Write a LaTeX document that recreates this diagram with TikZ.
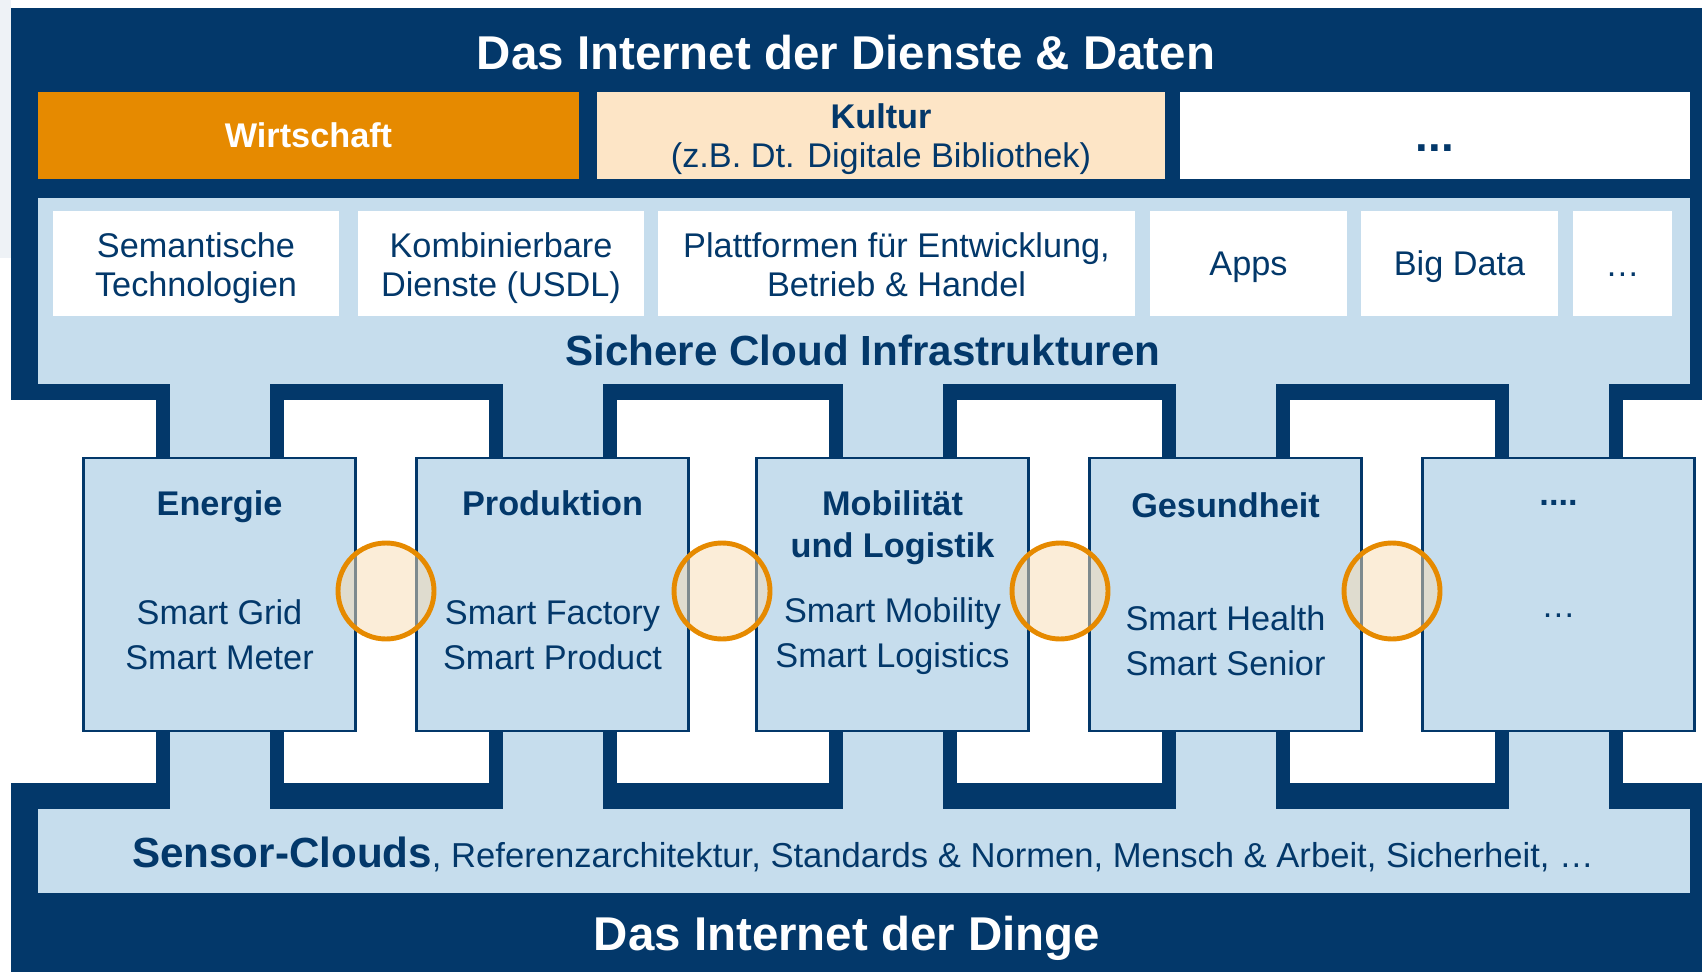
\documentclass[tikz,border=0pt]{standalone}
\usepackage{fontspec}
\setmainfont{Liberation Sans}
\usepackage{xcolor}
\usetikzlibrary{calc}
\definecolor{navy}{HTML}{03386A}
\definecolor{paleblue}{HTML}{C6DDED}
\definecolor{signal}{HTML}{E68A00}
\definecolor{peach}{HTML}{FDE5C6}
\definecolor{haze}{HTML}{EEF2F6}
\newcommand{\domainleg}[5]{%
  \fill[navy] ($(#1,#2)+(-64,0)$) rectangle ($(#1,#3)+(64,0)$);
  \fill[paleblue] ($(#1,#4)+(-50,0)$) rectangle ($(#1,#5)+(50,0)$);}

\begin{document}
\begin{tikzpicture}[x=0.02cm, y=-0.02cm, text=navy, inner sep=0pt,
  layertitle/.style={font=\fontsize{27}{30}\selectfont\bfseries, text=white},
  tiletext/.style={font=\fontsize{19.5}{22.7}\selectfont, align=center},
  domtitle/.style={font=\fontsize{19.5}{23.8}\selectfont\bfseries, align=center},
  dombody/.style={font=\fontsize{19.5}{25.5}\selectfont, align=center}]
  \useasboundingbox (0,0) rectangle (1702,972);
  \fill[haze] (0,0) rectangle (11,258);
  % services layer
  \fill[navy] (11,8) rectangle (1702,400);
  \fill[paleblue] (38,198) rectangle (1690,384);
  \fill[signal] (38,92) rectangle (579,179);
  \fill[peach] (597,92) rectangle (1165,179);
  \fill[white] (1180,92) rectangle (1690,179);
  \foreach \xa/\xb in {53/339, 358/644, 658/1135, 1150/1347, 1361/1558, 1573/1672}
    \fill[white] (\xa,211) rectangle (\xb,316);
  % things layer
  \fill[navy] (11,783) rectangle (1702,972);
  \fill[paleblue] (38,809) rectangle (1690,893);
  % legs + domain boxes
  \foreach \cx in {219.5,552.5,892.5,1225.5,1558.5}{
    \domainleg{\cx}{400}{457}{384}{457}
    \domainleg{\cx}{732}{783}{732}{809}
    \draw[navy, line width=1.7pt, fill=paleblue] ($(\cx,458)+(-136,0)$) rectangle ($(\cx,731)+(136,0)$);
  }
  \foreach \jx in {386,722,1060,1392}
    \draw[signal, line width=2.8pt, fill=signal!30, fill opacity=0.5] (\jx,591) circle (48);

  % base anchor = baseline of the last line
  \node[layertitle, anchor=base] (dienste) at (846,70) {Das Internet der Dienste \& Daten};
  \node[font=\fontsize{19.5}{22}\selectfont\bfseries, text=white, anchor=base] (wirtschaft) at (308.5,148) {Wirtschaft};
  \node[tiletext, anchor=base] (kultur) at (881,168) {\textbf{Kultur}\\(z.B. Dt. Digitale Bibliothek)};
  \node[font=\fontsize{26}{28}\selectfont\bfseries, anchor=base] (weitere) at (1435,152) {...};
  \node[tiletext, anchor=base] (semantik) at (196,297) {Semantische\\Technologien};
  \node[tiletext, anchor=base] (usdl) at (501,297) {Kombinierbare\\Dienste (USDL)};
  \node[tiletext, anchor=base] (plattform) at (896.5,297) {Plattformen für Entwicklung,\\Betrieb \& Handel};
  \node[tiletext, anchor=base] (apps) at (1248.5,276) {Apps};
  \node[tiletext, anchor=base] (bigdata) at (1459.5,276) {Big Data};
  \node[tiletext, anchor=base] (mehr) at (1622.5,277) {…};
  \node[font=\fontsize{24}{26}\selectfont\bfseries, anchor=base] (cloud) at (863,366) {Sichere Cloud Infrastrukturen};

  \foreach \cx/\ty/\ttl/\by/\body [count=\i] in {%
      219.5/515/Energie/669/{Smart Grid\\Smart Meter},
      552.5/515/Produktion/669/{Smart Factory\\Smart Product},
      892.5/557/{Mobilität\\und Logistik}/667/{Smart Mobility\\Smart Logistics},
      1225.5/518/Gesundheit/675/{Smart Health\\Smart Senior},
      1558.5/505/{....}/617/{…}}{
    \node[domtitle, anchor=base] (title\i) at (\cx,\ty) {\ttl};
    \node[dombody, anchor=base] (body\i) at (\cx,\by) {\body};
  }

  \node[font=\fontsize{19.7}{22}\selectfont, anchor=base] (sensor) at (863,867)
    {{\fontsize{24}{26}\selectfont\bfseries Sensor-Clouds}, Referenzarchitektur, Standards \& Normen, Mensch \& Arbeit, Sicherheit, …};
  \node[layertitle, anchor=base] (dinge) at (847,950) {Das Internet der Dinge};
\end{tikzpicture}
\end{document}
